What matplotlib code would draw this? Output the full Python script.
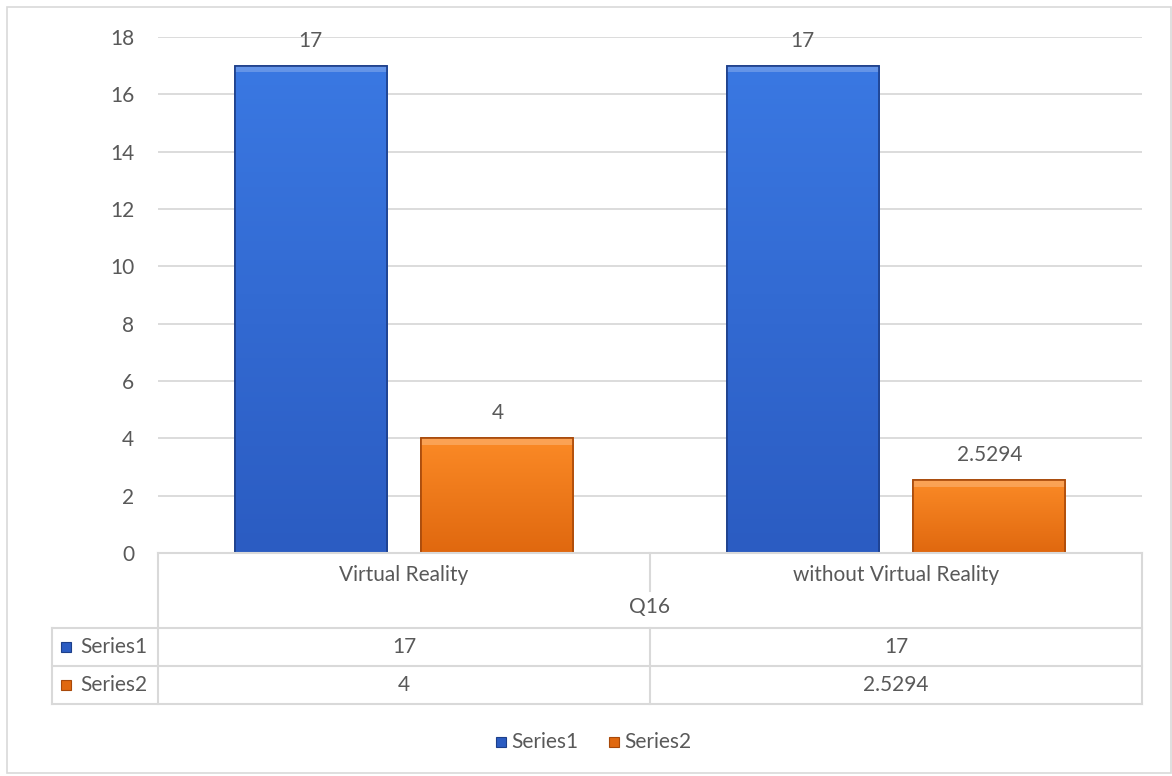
import matplotlib
matplotlib.use("Agg")
import matplotlib.pyplot as plt
import numpy as np
from matplotlib.lines import Line2D
from matplotlib.patches import Rectangle
from matplotlib.colors import LinearSegmentedColormap

categories = ["Virtual Reality", "without Virtual Reality"]
group_label = "Q16"
series_names = ["Series1", "Series2"]
series1 = [17, 17]
series2 = [4, 2.5294]
series_values = [series1, series2]
value_labels = [["17", "17"], ["4", "2.5294"]]
yticks = [0, 2, 4, 6, 8, 10, 12, 14, 16, 18]

plt.rcParams['font.family'] = ['Lato', 'DejaVu Sans']
FS = 15
TXT = "#595959"
GRID = "#d9d9d9"
W, H = 1172, 776
fig = plt.figure(figsize=(W / 100, H / 100), dpi=100)
fig.patch.set_facecolor("white")

def fx(px):
    return px / W

def fy(py):
    return 1 - py / H

# outer border
fig.add_artist(Rectangle((fx(7), fy(773)), fx(1171) - fx(7), fy(7) - fy(773),
                         transform=fig.transFigure, fill=False, edgecolor=GRID, lw=1.2))

ax_l, ax_r, ax_t, ax_b = 158, 1142, 37, 553
ax = fig.add_axes([fx(ax_l), fy(ax_b), fx(ax_r) - fx(ax_l), fy(ax_t) - fy(ax_b)])
ax.set_xlim(-0.5, len(categories) - 0.5)
ax.set_ylim(0, 18)
ax.set_yticks(yticks)
ax.set_yticklabels([str(t) for t in yticks], fontsize=FS, color=TXT)
ax.tick_params(axis='y', length=0, pad=17)
ax.set_xticks([])
for s in ax.spines.values():
    s.set_visible(False)
ax.grid(axis='y', color=GRID, lw=1.3)
ax.set_axisbelow(True)

colors = [("#3a78e2", "#2b5cc2", "#1d3f8a"), ("#fb8a26", "#e0680f", "#a8490a")]
width = 0.309
offsets = [-0.19, 0.19]
x = np.arange(len(categories))
for si, vals in enumerate(series_values):
    top_c, bot_c, edge_c = colors[si]
    bars = ax.bar(x + offsets[si], vals, width, color=bot_c, edgecolor=edge_c, lw=1.2, zorder=2)
    cmap = LinearSegmentedColormap.from_list("g", [bot_c, top_c])
    for bi, b in enumerate(bars):
        x0, y0 = b.get_x(), b.get_y()
        w, h = b.get_width(), b.get_height()
        grad = np.linspace(0, 1, 100).reshape(-1, 1)
        im = ax.imshow(grad, extent=[x0, x0 + w, y0, y0 + h], origin='lower',
                       cmap=cmap, aspect='auto', zorder=2.5)
        im.set_clip_path(b)
        # bevel highlight at top
        ax.add_patch(Rectangle((x0, y0 + h - 0.22), w, 0.22, facecolor="white",
                               alpha=0.22, lw=0, zorder=2.6))
        ax.add_patch(Rectangle((x0, y0), w, h, fill=False, edgecolor=edge_c, lw=1.2, zorder=2.7))
        ax.annotate(value_labels[si][bi], (x0 + w / 2, y0 + h), xytext=(0, 18),
                    textcoords="offset points", ha="center", va="center",
                    fontsize=FS, color=TXT)
ax.set_xlim(-0.5, len(categories) - 0.5)
ax.set_ylim(0, 18)

# data table
def hline(y, x0, x1):
    fig.add_artist(Line2D([fx(x0), fx(x1)], [fy(y), fy(y)], transform=fig.transFigure,
                          color=GRID, lw=1.5))

def vline(x_, y0, y1):
    fig.add_artist(Line2D([fx(x_), fx(x_)], [fy(y0), fy(y1)], transform=fig.transFigure,
                          color=GRID, lw=1.5))

hline(553, ax_l, ax_r)
hline(628, 52, ax_r)
hline(666, 52, ax_r)
hline(704, 52, ax_r)
vline(ax_l, 553, 704)
vline(ax_r, 553, 704)
vline(52, 628, 704)
mid = (ax_l + ax_r) / 2
vline(mid, 553, 591)
vline(mid, 628, 704)

cat_w = (ax_r - ax_l) / len(categories)
for i, c in enumerate(categories):
    cx = ax_l + cat_w * (i + 0.5)
    fig.text(fx(cx), fy(575), c, ha="center", va="center", fontsize=FS, color=TXT)
fig.text(fx(mid), fy(607), group_label, ha="center", va="center", fontsize=FS, color=TXT)

row_y = [647, 685]
for si, name in enumerate(series_names):
    top_c, bot_c, edge_c = colors[si]
    fig.add_artist(Rectangle((fx(61), fy(row_y[si] + 5)), fx(10), fy(0) - fy(10),
                             transform=fig.transFigure, facecolor=bot_c, edgecolor=edge_c, lw=0.8))
    fig.text(fx(80), fy(row_y[si]), name, ha="left", va="center", fontsize=FS, color=TXT)
    for i, lab in enumerate(value_labels[si]):
        cx = ax_l + cat_w * (i + 0.5)
        fig.text(fx(cx), fy(row_y[si]), lab, ha="center", va="center", fontsize=FS, color=TXT)

# legend
leg_x = [496, 609]
for si, name in enumerate(series_names):
    top_c, bot_c, edge_c = colors[si]
    fig.add_artist(Rectangle((fx(leg_x[si]), fy(747)), fx(10), fy(0) - fy(10),
                             transform=fig.transFigure, facecolor=bot_c, edgecolor=edge_c, lw=0.8))
    fig.text(fx(leg_x[si] + 15), fy(742), name, ha="left", va="center", fontsize=FS, color=TXT)

fig.savefig("out.png", dpi=100, facecolor="white")
